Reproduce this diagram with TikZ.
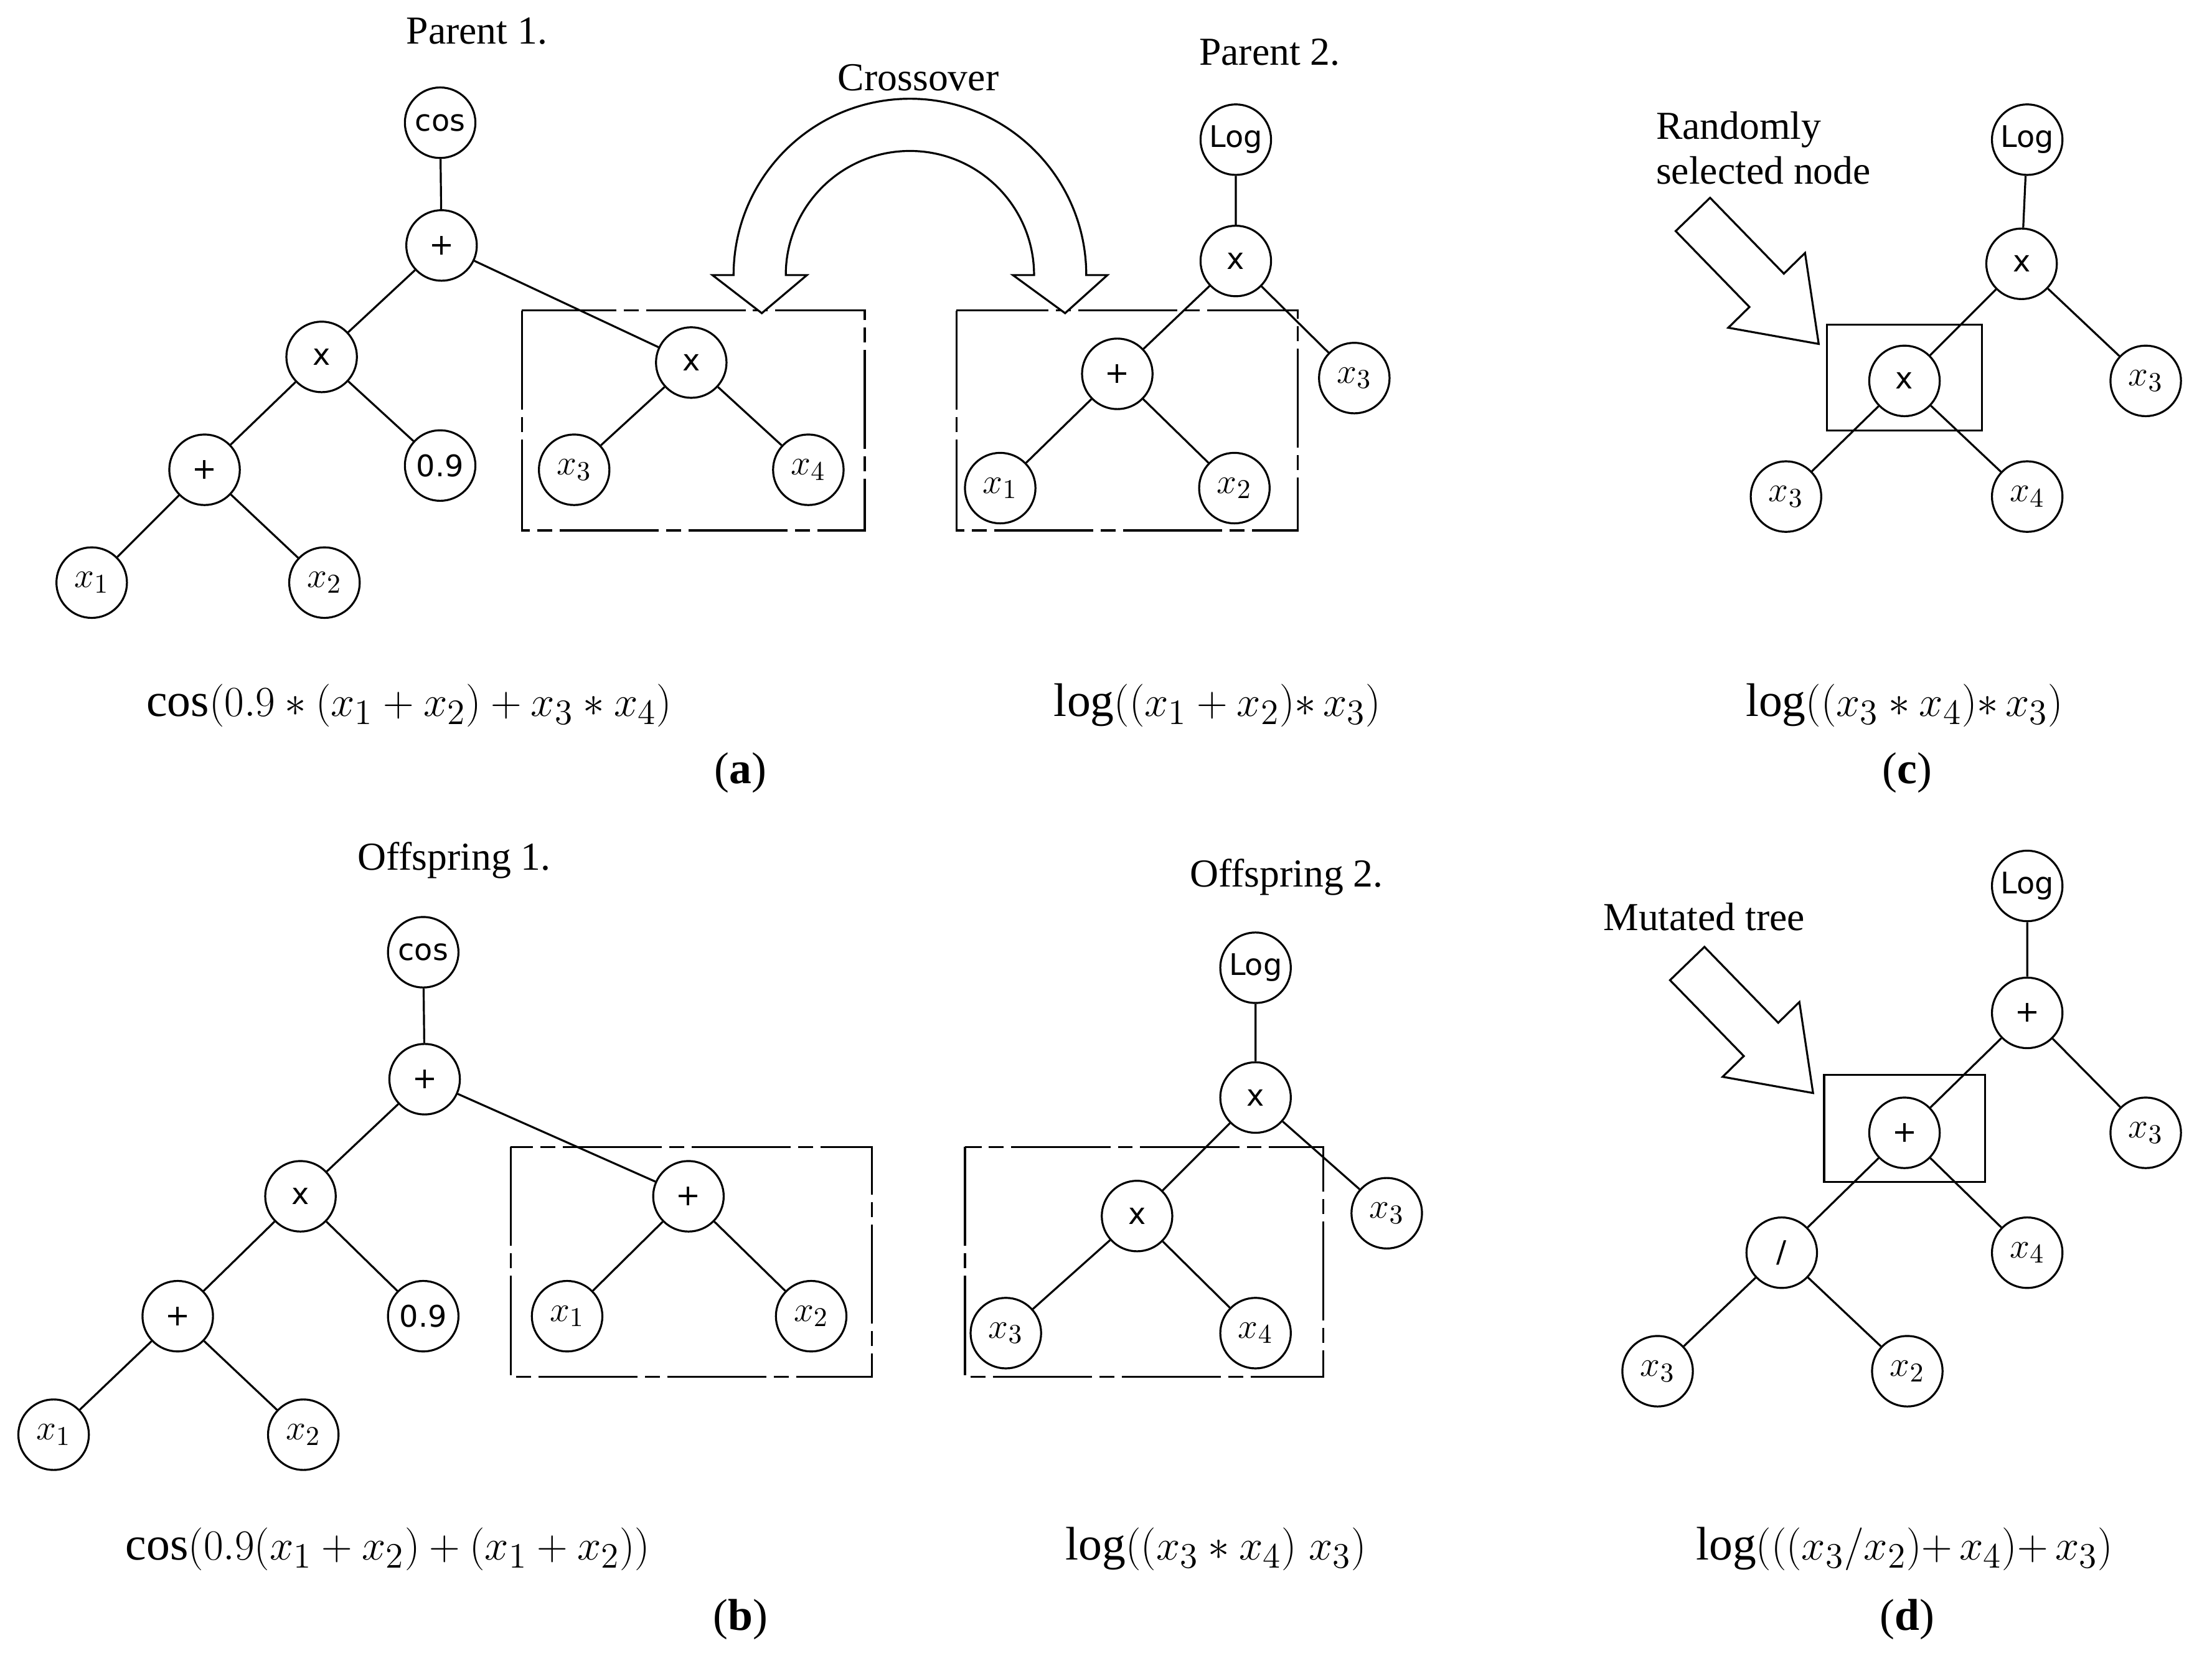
\documentclass[tikz,border=0pt]{standalone}
\usepackage{fontspec}
\setmainfont{Liberation Serif}
\setsansfont{DejaVu Sans}
\usetikzlibrary{calc}
\begin{document}
\begin{tikzpicture}[x=0.02cm,y=-0.02cm,
  nd/.style={circle,draw,line width=0.8pt,minimum size=1cm,inner sep=0pt,font=\sffamily\fontsize{12}{12}\selectfont},
  vx/.style={nd,font=\fontsize{15}{15}\selectfont},
  lbl/.style={font=\fontsize{16}{18}\selectfont},
  frm/.style={font=\fontsize{19}{19}\selectfont},
  tag/.style={font=\fontsize{18}{18}\selectfont},
  bx/.style={line width=0.8pt,dash pattern=on 40pt off 3pt on 6pt off 3pt},
  ed/.style={line width=0.8pt},
  harrow/.style={draw,line width=0.8pt,fill=white}]
\useasboundingbox (0,0) rectangle (1568,1177);
\newcommand\hollowarrow[1]{%
  \draw[harrow] ($#1+(-12.2,11.8)$) -- ($#1+(40.1,65.6)$) -- ($#1+(25.1,80.3)$) -- ($#1+(89.2,91.8)$)
   -- ($#1+(79.5,27.3)$) -- ($#1+(64.5,42)$) -- ($#1+(12.2,-11.8)$) -- cycle;}

% ---------- (a)
\node[lbl] (p1) at (338,22) {Parent 1.};
\node[lbl] (co) at (651,55) {Crossover};
\node[lbl] (p2) at (900,37) {Parent 2.};
\draw[bx] (370,220) rectangle (613,376);
\draw[bx] (678,220) rectangle (920,376);
\node[nd] (a1) at (312,87) {cos};
\node[nd] (a2) at (313,174) {+};
\node[nd] (a3) at (228,253) {x};
\node[nd] (a4) at (145,333) {+};
\node[nd] (a5) at (312,330) {0.9};
\node[vx] (a6) at (65,413) {$x_1$};
\node[vx] (a7) at (230,413) {$x_2$};
\node[nd] (a8) at (490,257) {x};
\node[vx] (a9) at (407,333) {$x_3$};
\node[vx] (a10) at (573,333) {$x_4$};
\draw[ed] (a1)--(a2) (a2)--(a3) (a3)--(a4) (a3)--(a5) (a4)--(a6) (a4)--(a7) (a2)--(a8) (a8)--(a9) (a8)--(a10);
\node[nd] (b1) at (876,99) {Log};
\node[nd] (b2) at (876,185) {x};
\node[vx] (b3) at (960,268) {$x_3$};
\node[nd] (b4) at (792,265) {+};
\node[vx] (b5) at (709,346) {$x_1$};
\node[vx] (b6) at (875,346) {$x_2$};
\draw[ed] (b1)--(b2) (b2)--(b3) (b2)--(b4) (b4)--(b5) (b4)--(b6);
% crossover hollow arrow
\draw[harrow] (520,195) arc[start angle=180,end angle=360,radius=125] -- (785,195) -- (755,222) -- (718,195) -- (733,195)
  arc[start angle=360,end angle=180,radius=88] -- (572,195) -- (540,222) -- (505,195) -- cycle;
\node[frm] (fa1) at (290,500) {$\cos(0.9*(x_1+x_2)+x_3*x_4)$};
\node[frm] (fa2) at (863,500) {$\log((x_1+x_2){*}\,x_3)$};
\node[tag] (ta) at (525,548) {(\textbf{a})};

% ---------- (c)
\node[lbl,align=left] (rs) at (1250,105) {Randomly\\selected node};
\draw[ed] (1295,230) rectangle (1405,305);
\node[nd] (c1) at (1437,99) {Log};
\node[nd] (c2) at (1433,187) {x};
\node[vx] (c3) at (1521,270) {$x_3$};
\node[nd] (c4) at (1350,270) {x};
\node[vx] (c5) at (1266,352) {$x_3$};
\node[vx] (c6) at (1437,352) {$x_4$};
\draw[ed] (c1)--(c2) (c2)--(c3) (c2)--(c4) (c4)--(c5) (c4)--(c6);
\hollowarrow{(1200,152)}
\node[frm] (fc) at (1350,500) {$\log((x_3*x_4){*}\,x_3)$};
\node[tag] (tc) at (1352,548) {(\textbf{c})};

% ---------- (b)
\node[lbl] (o1) at (322,610) {Offspring 1.};
\node[lbl] (o2) at (912,622) {Offspring 2.};
\draw[bx] (362,813) rectangle (618,976);
\draw[bx] (684,813) rectangle (938,976);
\node[nd] (d1) at (300,675) {cos};
\node[nd] (d2) at (301,765) {+};
\node[nd] (d3) at (213,848) {x};
\node[nd] (d4) at (126,933) {+};
\node[nd] (d5) at (300,933) {0.9};
\node[vx] (d6) at (38,1017) {$x_1$};
\node[vx] (d7) at (215,1017) {$x_2$};
\node[nd] (d8) at (488,848) {+};
\node[vx] (d9) at (402,933) {$x_1$};
\node[vx] (d10) at (575,933) {$x_2$};
\draw[ed] (d1)--(d2) (d2)--(d3) (d3)--(d4) (d3)--(d5) (d4)--(d6) (d4)--(d7) (d2)--(d8) (d8)--(d9) (d8)--(d10);
\node[nd] (e1) at (890,686) {Log};
\node[nd] (e2) at (890,778) {x};
\node[vx] (e3) at (983,860) {$x_3$};
\node[nd] (e4) at (806,862) {x};
\node[vx] (e5) at (713,945) {$x_3$};
\node[vx] (e6) at (890,945) {$x_4$};
\draw[ed] (e1)--(e2) (e2)--(e3) (e2)--(e4) (e4)--(e5) (e4)--(e6);
\node[frm] (fb1) at (275,1098) {$\cos(0.9(x_1+x_2)+(x_1+x_2))$};
\node[frm] (fb2) at (862,1098) {$\log((x_3*x_4)\;x_3)$};
\node[tag] (tb) at (525,1148) {(\textbf{b})};

% ---------- (d)
\node[lbl] (mt) at (1208,650) {Mutated tree};
\draw[ed] (1293,762) rectangle (1407,838);
\node[nd] (g1) at (1437,628) {Log};
\node[nd] (g2) at (1437,718) {+};
\node[vx] (g3) at (1521,803) {$x_3$};
\node[nd] (g4) at (1350,803) {+};
\node[nd] (g5) at (1263,888) {/};
\node[vx] (g6) at (1437,888) {$x_4$};
\node[vx] (g7) at (1175,972) {$x_3$};
\node[vx] (g8) at (1352,972) {$x_2$};
\draw[ed] (g1)--(g2) (g2)--(g3) (g2)--(g4) (g4)--(g5) (g4)--(g6) (g5)--(g7) (g5)--(g8);
\hollowarrow{(1196,683)}
\node[frm] (fd) at (1350,1098) {$\log(((x_3/x_2){+}\,x_4){+}\,x_3)$};
\node[tag] (td) at (1352,1148) {(\textbf{d})};
\end{tikzpicture}
\end{document}
